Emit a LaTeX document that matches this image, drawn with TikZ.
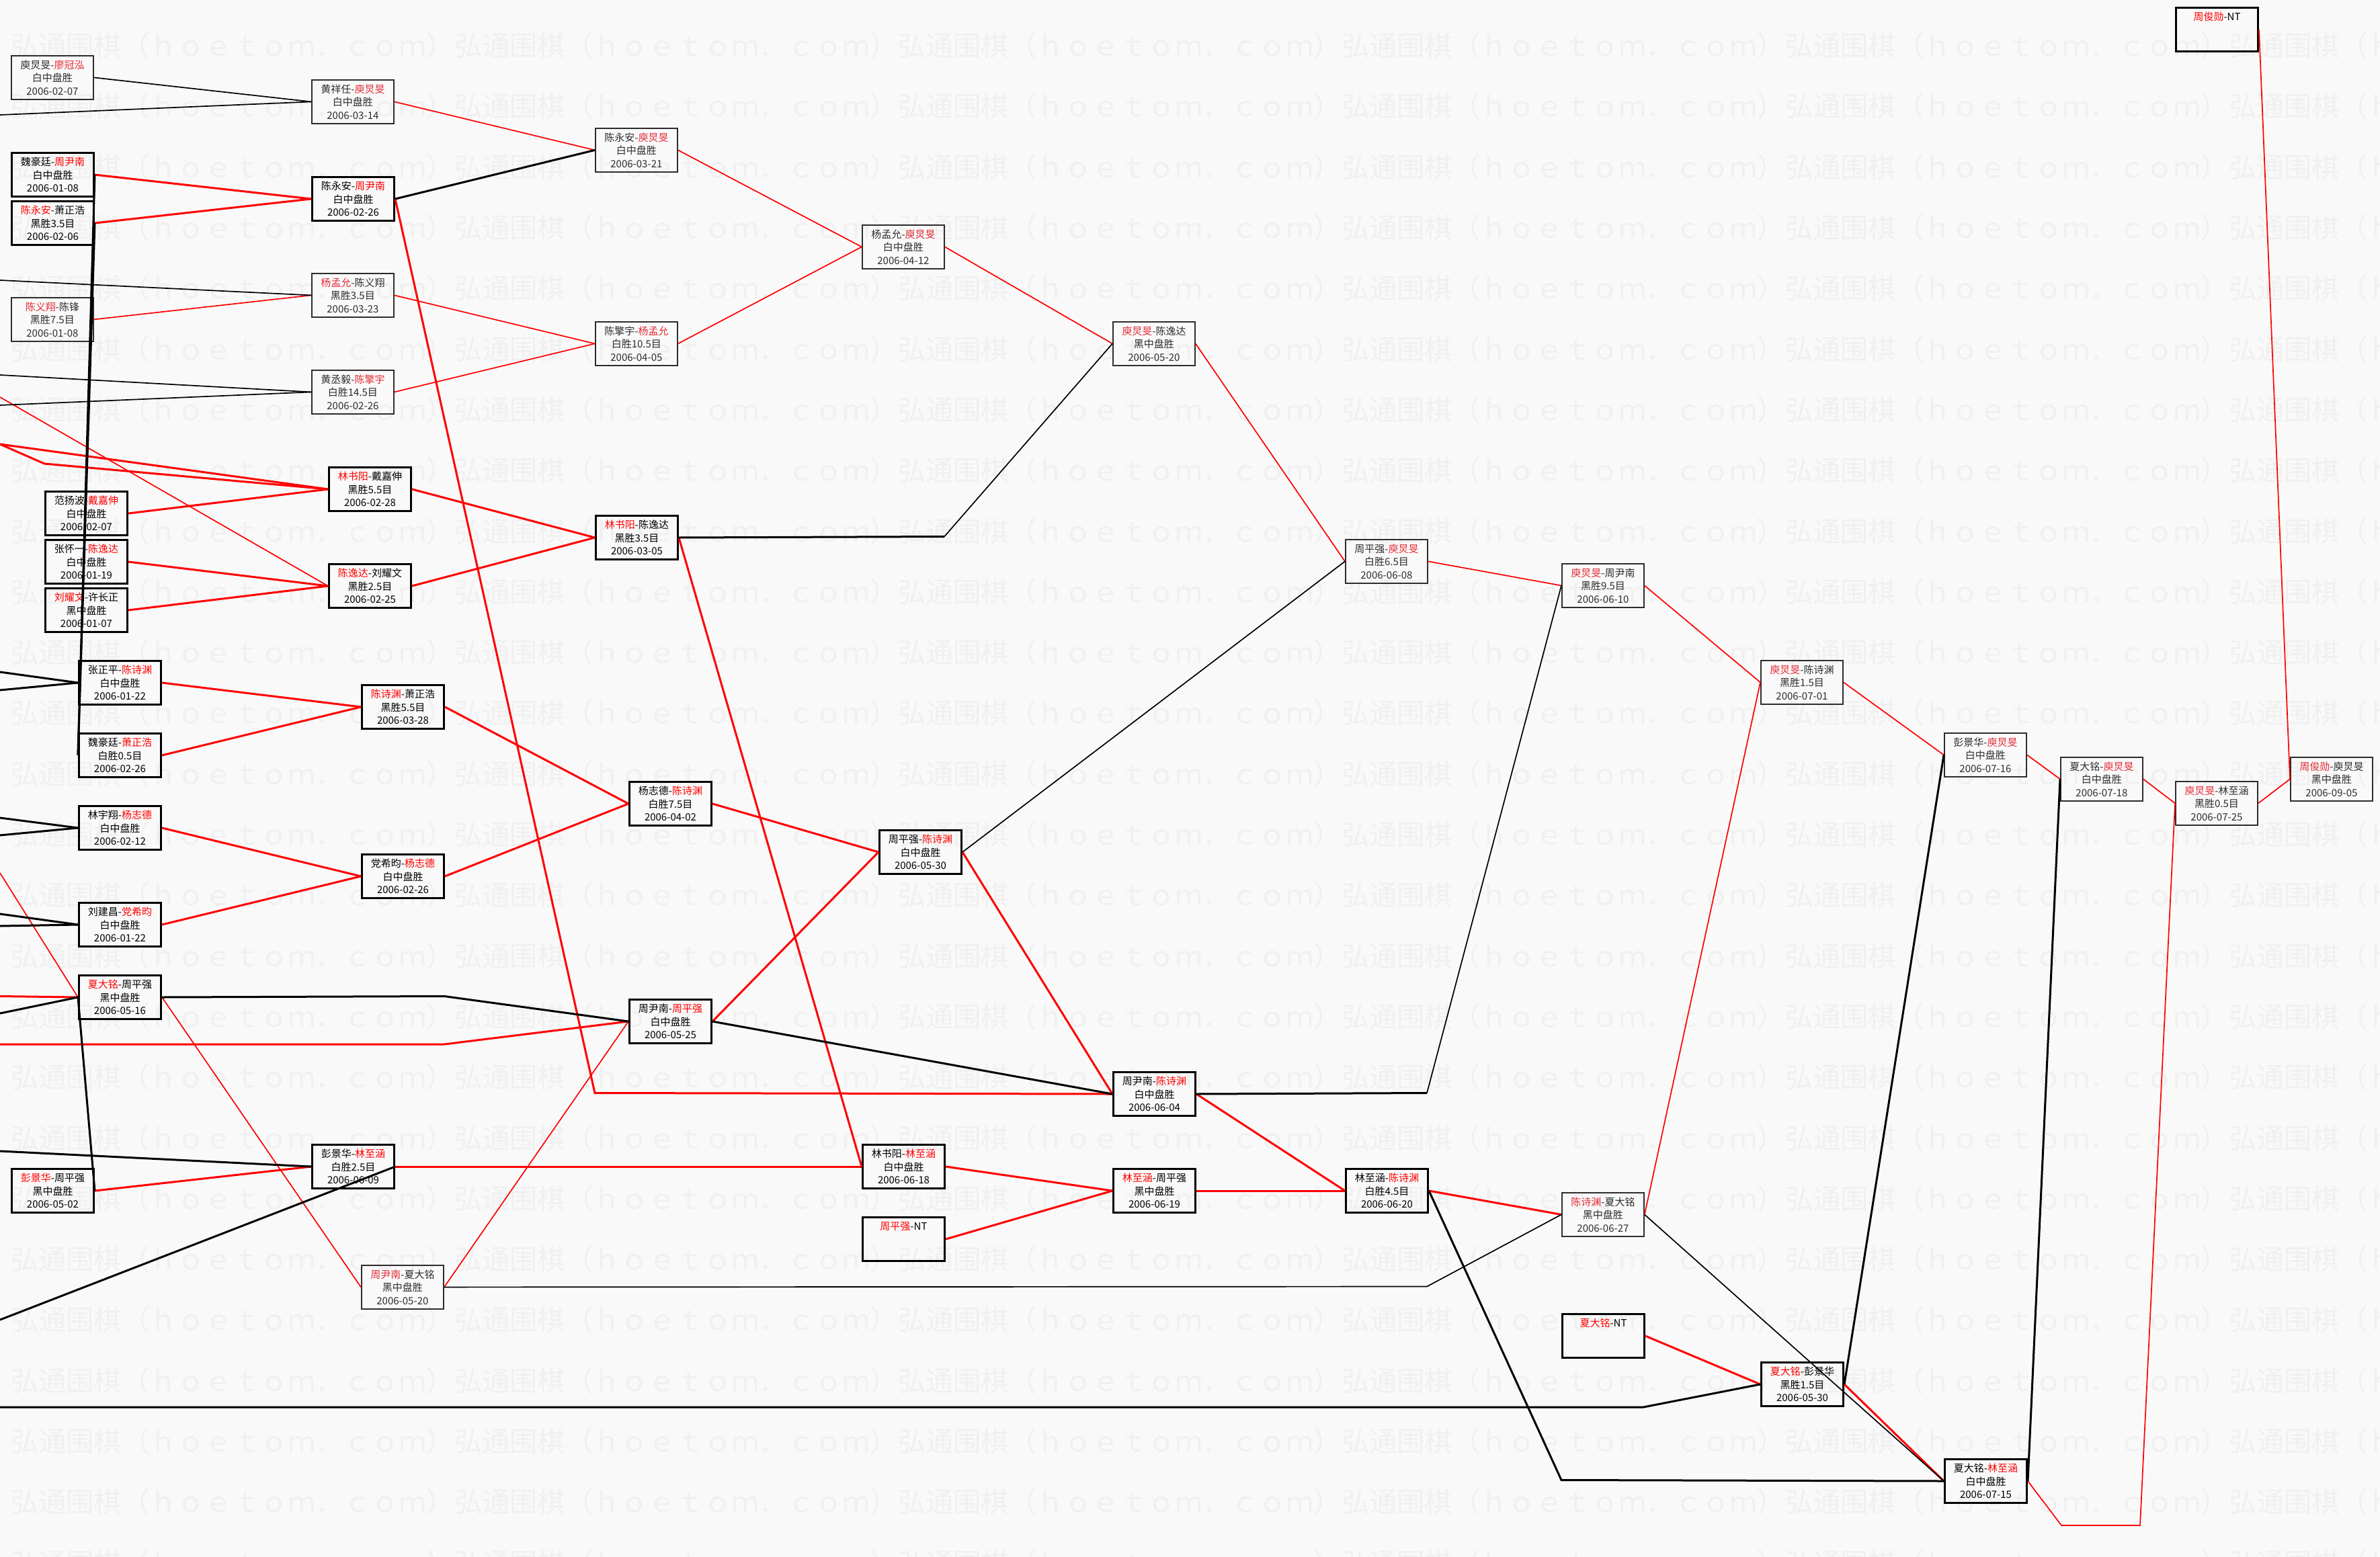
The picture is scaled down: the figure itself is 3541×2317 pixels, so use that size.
\documentclass[tikz,border=0pt]{standalone}
\usepackage{fontspec}
\newfontfamily\cjk{Noto Sans CJK SC}
\definecolor{bgc}{RGB}{249,249,249}
\definecolor{wm}{RGB}{240,240,240}
\definecolor{tred}{RGB}{228,45,55}
\definecolor{tgray}{RGB}{45,45,45}
\newcommand\WinK[1]{\textcolor{red}{#1}}
\newcommand\WinT[1]{\textcolor{tred}{#1}}
\newcommand\wmtile{弘通围棋（ｈｏｅｔｏｍ．ｃｏｍ）}
\begin{document}
\begin{tikzpicture}[x=1pt,y=-1pt,
  box/.style={rectangle, draw, anchor=north west, minimum width=122pt, minimum height=65pt, inner sep=0pt, align=center, font=\cjk\fontsize{15}{19.5}\selectfont},
  kbox/.style={box, line width=3pt, draw=black, text=black},
  tbox/.style={box, line width=1.8pt, draw=tgray, text=tgray},
  rk/.style={draw=red, line width=3pt},
  rt/.style={draw=red, line width=1.7pt},
  bk/.style={draw=black, line width=3pt},
  bt/.style={draw=black, line width=1.7pt},
  wmark/.style={anchor=west, inner sep=0pt, text=wm, font=\cjk\fontsize{41.25}{41.25}\selectfont}]
\useasboundingbox (0,0) rectangle (3541,2317);
\fill[bgc] (0,0) rectangle (3541,2317);
\begin{scope}
\clip (0,0) rectangle (3541,2317);
\foreach \j in {0,...,25} {
  \node[wmark] (wm\j) at (-644,68+90.3*\j) {\wmtile\wmtile\wmtile\wmtile\wmtile\wmtile\wmtile};
}
\end{scope}

% nodes
\node[tbox] (N1) at (16,82) {庾炅旻-\WinT{廖冠泓}\\白中盘胜\\2006-02-07};
\node[tbox] (N2) at (463,118) {黄祥任-\WinT{庾炅旻}\\白中盘胜\\2006-03-14};
\node[tbox] (N3) at (885,190) {陈永安-\WinT{庾炅旻}\\白中盘胜\\2006-03-21};
\node[kbox] (N4) at (16,226) {魏豪廷-\WinK{周尹南}\\白中盘胜\\2006-01-08};
\node[kbox] (N5) at (16,298) {\WinK{陈永安}-萧正浩\\黑胜3.5目\\2006-02-06};
\node[kbox] (N6) at (463,262) {陈永安-\WinK{周尹南}\\白中盘胜\\2006-02-26};
\node[tbox] (N7) at (1282,334) {杨孟允-\WinT{庾炅旻}\\白中盘胜\\2006-04-12};
\node[tbox] (N8) at (463,406) {\WinT{杨孟允}-陈义翔\\黑胜3.5目\\2006-03-23};
\node[tbox] (N9) at (16,442) {\WinT{陈义翔}-陈锋\\黑胜7.5目\\2006-01-08};
\node[tbox] (N10) at (885,478) {陈擎宇-\WinT{杨孟允}\\白胜10.5目\\2006-04-05};
\node[tbox] (N11) at (1655,478) {\WinT{庾炅旻}-陈逸达\\黑中盘胜\\2006-05-20};
\node[tbox] (N12) at (463,550) {黄丞毅-\WinT{陈擎宇}\\白胜14.5目\\2006-02-26};
\node[kbox] (N13) at (488,694) {\WinK{林书阳}-戴嘉伸\\黑胜5.5目\\2006-02-28};
\node[kbox] (N14) at (66,730) {范扬波-\WinK{戴嘉伸}\\白中盘胜\\2006-02-07};
\node[kbox] (N15) at (885,766) {\WinK{林书阳}-陈逸达\\黑胜3.5目\\2006-03-05};
\node[kbox] (N16) at (66,802) {张怀一-\WinK{陈逸达}\\白中盘胜\\2006-01-19};
\node[tbox] (N17) at (2001,802) {周平强-\WinT{庾炅旻}\\白胜6.5目\\2006-06-08};
\node[kbox] (N18) at (488,838) {\WinK{陈逸达}-刘耀文\\黑胜2.5目\\2006-02-25};
\node[kbox] (N19) at (66,874) {\WinK{刘耀文}-许长正\\黑中盘胜\\2006-01-07};
\node[tbox] (N20) at (2323,838) {\WinT{庾炅旻}-周尹南\\黑胜9.5目\\2006-06-10};
\node[kbox] (N21) at (116,982) {张正平-\WinK{陈诗渊}\\白中盘胜\\2006-01-22};
\node[tbox] (N22) at (2619,982) {\WinT{庾炅旻}-陈诗渊\\黑胜1.5目\\2006-07-01};
\node[kbox] (N23) at (537,1018) {\WinK{陈诗渊}-萧正浩\\黑胜5.5目\\2006-03-28};
\node[kbox] (N24) at (116,1090) {魏豪廷-\WinK{萧正浩}\\白胜0.5目\\2006-02-26};
\node[tbox] (N25) at (2892,1090) {彭景华-\WinT{庾炅旻}\\白中盘胜\\2006-07-16};
\node[tbox] (N26) at (3065,1126) {夏大铭-\WinT{庾炅旻}\\白中盘胜\\2006-07-18};
\node[tbox] (N27) at (3407,1126) {\WinT{周俊勋}-庾炅旻\\黑中盘胜\\2006-09-05};
\node[tbox] (N28) at (3236,1162) {\WinT{庾炅旻}-林至涵\\黑胜0.5目\\2006-07-25};
\node[kbox] (N29) at (935,1162) {杨志德-\WinK{陈诗渊}\\白胜7.5目\\2006-04-02};
\node[kbox] (N30) at (116,1198) {林宇翔-\WinK{杨志德}\\白中盘胜\\2006-02-12};
\node[kbox] (N31) at (1307,1234) {周平强-\WinK{陈诗渊}\\白中盘胜\\2006-05-30};
\node[kbox] (N32) at (537,1270) {党希昀-\WinK{杨志德}\\白中盘胜\\2006-02-26};
\node[kbox] (N33) at (116,1342) {刘建昌-\WinK{党希昀}\\白中盘胜\\2006-01-22};
\node[kbox] (N34) at (116,1450) {\WinK{夏大铭}-周平强\\黑中盘胜\\2006-05-16};
\node[kbox] (N35) at (935,1486) {周尹南-\WinK{周平强}\\白中盘胜\\2006-05-25};
\node[kbox] (N36) at (1655,1594) {周尹南-\WinK{陈诗渊}\\白中盘胜\\2006-06-04};
\node[kbox] (N37) at (463,1702) {彭景华-\WinK{林至涵}\\白胜2.5目\\2006-06-09};
\node[kbox] (N38) at (1282,1702) {林书阳-\WinK{林至涵}\\白中盘胜\\2006-06-18};
\node[kbox] (N39) at (16,1738) {\WinK{彭景华}-周平强\\黑中盘胜\\2006-05-02};
\node[kbox] (N40) at (1655,1738) {\WinK{林至涵}-周平强\\黑中盘胜\\2006-06-19};
\node[kbox] (N41) at (2001,1738) {林至涵-\WinK{陈诗渊}\\白胜4.5目\\2006-06-20};
\node[kbox] (N42) at (1282,1810) {\WinK{周平强}-NT\\~\\~};
\node[tbox] (N43) at (2323,1774) {\WinT{陈诗渊}-夏大铭\\黑中盘胜\\2006-06-27};
\node[tbox] (N44) at (537,1882) {\WinT{周尹南}-夏大铭\\黑中盘胜\\2006-05-20};
\node[kbox] (N45) at (2323,1954) {\WinK{夏大铭}-NT\\~\\~};
\node[kbox] (N46) at (2619,2026) {\WinK{夏大铭}-彭景华\\黑胜1.5目\\2006-05-30};
\node[kbox] (N47) at (2892,2170) {夏大铭-\WinK{林至涵}\\白中盘胜\\2006-07-15};
\node[kbox] (N48) at (3236,10) {\WinK{周俊勋}-NT\\~\\~};

% free ends and bends
\coordinate (o1) at (0,171);
\coordinate (o2) at (0,417);
\coordinate (o3) at (0,558);
\coordinate (o4) at (0,603);
\coordinate (o5) at (0,661);
\coordinate (k5) at (66,690);
\coordinate (o7) at (0,591);
\coordinate (o8) at (0,1000);
\coordinate (o9) at (0,1027);
\coordinate (o10) at (0,1217);
\coordinate (o11) at (0,1243);
\coordinate (o12) at (0,1360);
\coordinate (o13) at (0,1378);
\coordinate (o14) at (0,1299);
\coordinate (o15) at (0,1482.5);
\coordinate (o16) at (0,1508);
\coordinate (o17) at (0,1554);
\coordinate (k17) at (661,1554);
\coordinate (o18) at (0,1713);
\coordinate (o19) at (0,1964);
\coordinate (o20) at (0,2094);
\coordinate (k20) at (2445,2094);
\coordinate (k6) at (885,1626.5);
\coordinate (k15) at (1405,798.5);
\coordinate (k34) at (661,1482.5);
\coordinate (k36) at (2123,1626.5);
\coordinate (k44) at (2123,1914.5);
\coordinate (k41) at (2323,2202.5);
\coordinate (k47a) at (3067,2270);
\coordinate (k47b) at (3184,2270);

% red thin
\draw[rt] (N2.east) -- (N3.west);
\draw[rt] (N3.east) -- (N7.west);
\draw[rt] (N10.east) -- (N7.west);
\draw[rt] (N8.east) -- (N10.west);
\draw[rt] (N12.east) -- (N10.west);
\draw[rt] (N9.east) -- (N8.west);
\draw[rt] (N7.east) -- (N11.west);
\draw[rt] (N11.east) -- (N17.west);
\draw[rt] (N17.east) -- (N20.west);
\draw[rt] (N20.east) -- (N22.west);
\draw[rt] (N43.east) -- (N22.west);
\draw[rt] (N22.east) -- (N25.west);
\draw[rt] (N25.east) -- (N26.west);
\draw[rt] (N26.east) -- (N28.west);
\draw[rt] (N28.east) -- (N27.west);
\draw[rt] (N48.east) -- (N27.west);
\draw[rt] (N34.east) -- (N44.west);
\draw[rt] (N44.east) -- (N35.west);
\draw[rt] (o7) -- (N18.west);
\draw[rt] (o14) -- (N34.west);
\draw[rt] (N47.east) -- (k47a) -- (k47b) -- (N28.west);

% red thick
\draw[rk] (N4.east) -- (N6.west);
\draw[rk] (N5.east) -- (N6.west);
\draw[rk] (N6.east) -- (k6) -- (N36.west);
\draw[rk] (N14.east) -- (N13.west);
\draw[rk] (o5) -- (N13.west);
\draw[rk] (o5) -- (k5) -- (N13.west);
\draw[rk] (N16.east) -- (N18.west);
\draw[rk] (N19.east) -- (N18.west);
\draw[rk] (N13.east) -- (N15.west);
\draw[rk] (N18.east) -- (N15.west);
\draw[rk] (N15.east) -- (N38.west);
\draw[rk] (N21.east) -- (N23.west);
\draw[rk] (N24.east) -- (N23.west);
\draw[rk] (N23.east) -- (N29.west);
\draw[rk] (N32.east) -- (N29.west);
\draw[rk] (N30.east) -- (N32.west);
\draw[rk] (N33.east) -- (N32.west);
\draw[rk] (N29.east) -- (N31.west);
\draw[rk] (N35.east) -- (N31.west);
\draw[rk] (N31.east) -- (N36.west);
\draw[rk] (o15) -- (N34.west);
\draw[rk] (o17) -- (k17) -- (N35.west);
\draw[rk] (N39.east) -- (N37.west);
\draw[rk] (N37.east) -- (N38.west);
\draw[rk] (N38.east) -- (N40.west);
\draw[rk] (N42.east) -- (N40.west);
\draw[rk] (N36.east) -- (N41.west);
\draw[rk] (N40.east) -- (N41.west);
\draw[rk] (N41.east) -- (N43.west);
\draw[rk] (N45.east) -- (N46.west);
\draw[rk] (N46.east) -- (N47.west);

% black thin
\draw[bt] (N1.east) -- (N2.west);
\draw[bt] (o1) -- (N2.west);
\draw[bt] (o2) -- (N8.west);
\draw[bt] (o3) -- (N12.west);
\draw[bt] (o4) -- (N12.west);
\draw[bk] (N15.east) -- (k15);
\draw[bt] (k15) -- (N11.west);
\draw[bt] (N31.east) -- (N17.west);
\draw[bk] (N36.east) -- (k36);
\draw[bt] (k36) -- (N20.west);
\draw[bt] (N44.east) -- (k44) -- (N43.west);
\draw[bt] (N43.east) -- (N47.west);

% black thick
\draw[bk] (N6.east) -- (N3.west);
\draw[bk] (N4.east) -- (N24.west);
\draw[bk] (N5.east) -- (N24.west);
\draw[bk] (o8) -- (N21.west);
\draw[bk] (o9) -- (N21.west);
\draw[bk] (o10) -- (N30.west);
\draw[bk] (o11) -- (N30.west);
\draw[bk] (o12) -- (N33.west);
\draw[bk] (o13) -- (N33.west);
\draw[bk] (o16) -- (N34.west);
\draw[bk] (N39.east) -- (N34.west);
\draw[bk] (N34.east) -- (k34) -- (N35.west);
\draw[bk] (N35.east) -- (N36.west);
\draw[bk] (o18) -- (N37.west);
\draw[bk] (N37.east) -- (o19);
\draw[bk] (o20) -- (k20) -- (N46.west);
\draw[bk] (N41.east) -- (k41) -- (N47.west);
\draw[bk] (N46.east) -- (N25.west);
\draw[bk] (N47.east) -- (N26.west);
\end{tikzpicture}
\end{document}
